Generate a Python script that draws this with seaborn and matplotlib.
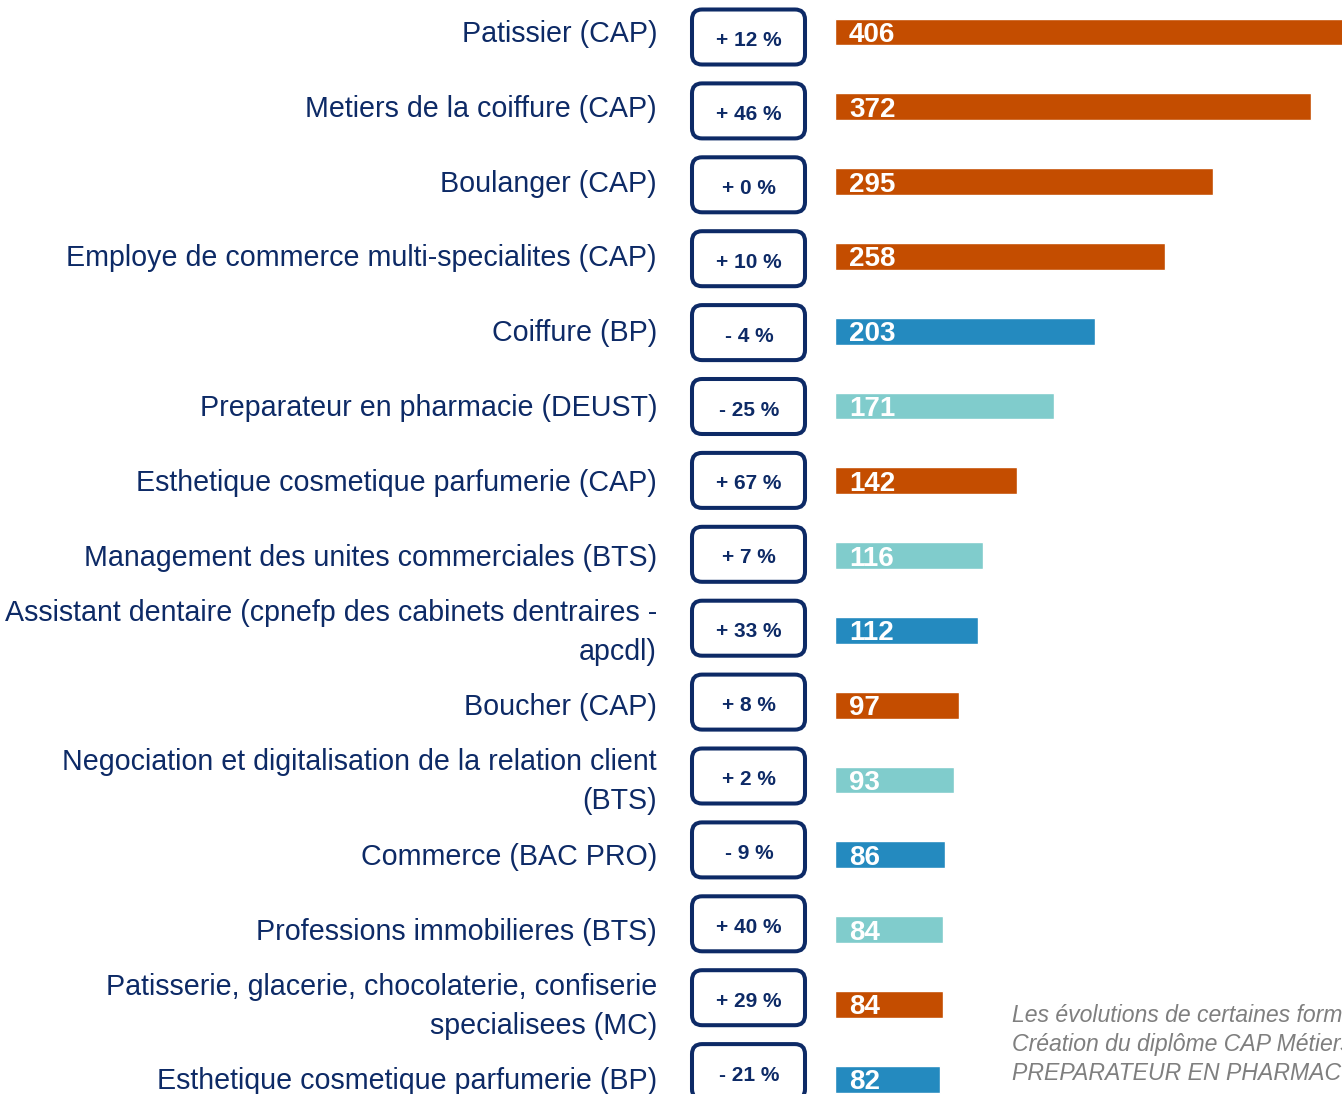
import matplotlib
matplotlib.use("Agg")
import matplotlib.pyplot as plt
from matplotlib.patches import FancyBboxPatch
import seaborn as sns
import pandas as pd

labels = [
    "Patissier (CAP)",
    "Metiers de la coiffure (CAP)",
    "Boulanger (CAP)",
    "Employe de commerce multi-specialites (CAP)",
    "Coiffure (BP)",
    "Preparateur en pharmacie (DEUST)",
    "Esthetique cosmetique parfumerie (CAP)",
    "Management des unites commerciales (BTS)",
    "Assistant dentaire (cpnefp des cabinets dentraires -\napcdl)",
    "Boucher (CAP)",
    "Negociation et digitalisation de la relation client\n(BTS)",
    "Commerce (BAC PRO)",
    "Professions immobilieres (BTS)",
    "Patisserie, glacerie, chocolaterie, confiserie\nspecialisees (MC)",
    "Esthetique cosmetique parfumerie (BP)",
]
values = [406, 372, 295, 258, 203, 171, 142, 116, 112, 97, 93, 86, 84, 84, 82]
evolution = [12, 46, 0, 10, -4, -25, 67, 7, 33, 8, 2, -9, 40, 29, -21]
groups = ["CAP", "CAP", "CAP", "CAP", "BP", "BTS", "CAP", "BTS", "BP", "CAP",
          "BTS", "BP", "BTS", "CAP", "BP"]
palette = {"CAP": "#C44D00", "BP": "#248ABF", "BTS": "#80CCCC"}
footnote = [
    "Les évolutions de certaines formations",
    "Création du diplôme CAP Métiers de l'esthétique",
    "PREPARATEUR EN PHARMACIE",
]

NAVY = "#0D2A66"
W, H = 1342, 1094
sns.set_style("white")
plt.rcParams["font.family"] = ["Liberation Sans", "DejaVu Sans"]

df = pd.DataFrame({"label": labels, "value": values, "group": groups})

fig = plt.figure(figsize=(W / 100, H / 100), dpi=100)

# ---- box column (own vertical rhythm) ----
axb = fig.add_axes([0, 0, 1, 1])
axb.set_xlim(0, W)
box_top, box_step = 37, 73.9
axb.set_ylim((H - box_top) / box_step, -box_top / box_step)
axb.axis("off")
for i, ev in enumerate(evolution):
    h = 55 / box_step
    box = FancyBboxPatch((692, i - h / 2), 113, h,
                         boxstyle="round,pad=0,rounding_size=10",
                         mutation_aspect=1 / box_step, lw=2.9,
                         ec=NAVY, fc="white")
    axb.add_patch(box)
    sign = "-" if ev < 0 else "+"
    axb.annotate(f"{sign} {abs(ev)} %", xy=(749, i), xytext=(0, -9),
                 textcoords="offset pixels", ha="center", va="baseline",
                 color=NAVY, fontsize=15, fontweight="bold")

# ---- bars ----
ax = fig.add_axes([835 / W, 0, (W - 835) / W, 1])
sns.barplot(data=df, x="value", y="label", hue="group", palette=palette,
            dodge=False, width=0.36, legend=False, orient="h", ax=ax,
            saturation=1)
px_per_unit = 1.28
ax.set_xlim(0, (W - 835) / px_per_unit)
top_px, step = 32, 74.8
ax.set_ylim((H - top_px) / step, -top_px / step)
ax.axis("off")

for i, (lab, v) in enumerate(zip(labels, values)):
    ax.annotate(str(v), xy=(0, i), xytext=(14, -10), textcoords="offset pixels",
                ha="left", va="baseline", color="white", fontsize=20,
                fontweight="bold")
    ax.annotate(lab, xy=(0, i), xytext=(657 - 835, -2), textcoords="offset pixels",
                ha="right", va="center", color=NAVY, fontsize=20.6,
                multialignment="right", annotation_clip=False,
                linespacing=1.5)

for k, line in enumerate(footnote):
    fig.text(1012 / W, 1 - (1016 + 29 * k) / H, line,
             ha="left", va="center", color="#7F7F7F", fontsize=16.6,
             fontstyle="italic")

fig.savefig("out.png", dpi=100)
